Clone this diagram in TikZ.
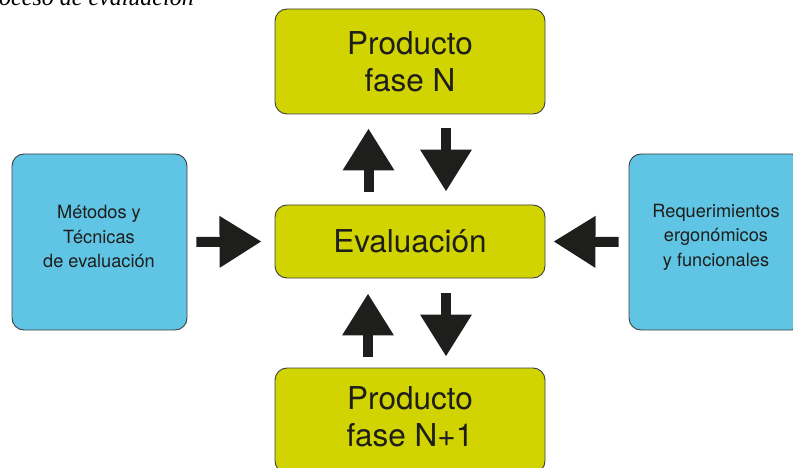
\documentclass[tikz,border=0pt]{standalone}
\usepackage{fontspec}
\setmainfont{TeX Gyre Heros}
\newfontfamily\captionfont{Liberation Serif}
\usetikzlibrary{arrows.meta}
\definecolor{phasegreen}{RGB}{209,212,0}
\definecolor{inputblue}{RGB}{96,196,228}
\definecolor{frameline}{RGB}{64,64,64}
\definecolor{inkdark}{RGB}{30,30,28}
\tikzset{
  phasebox/.style={draw=frameline, line width=0.9pt, fill=phasegreen, rounded corners=12pt,
    minimum width=270pt, inner sep=0pt, align=center, text=inkdark,
    font=\fontsize{31.5}{37}\selectfont},
  inputbox/.style={draw=frameline, line width=0.9pt, fill=inputblue, rounded corners=12pt,
    minimum width=175pt, minimum height=176pt, inner sep=0pt},
  inputtext/.style={align=center, text=inkdark, inner sep=0pt,
    font=\fontsize{18.2}{24.5}\selectfont},
  blockarrow/.style={draw=inkdark, line width=10pt,
    -{Triangle[length=42pt, width=49pt]}, fill=inkdark}
}
\begin{document}
\begin{tikzpicture}[x=1pt, y=-1pt]
  \useasboundingbox (0,0) rectangle (793,468);
  \clip (0,0) rectangle (793,468);

  % caption line, cut by the top edge
  \node[anchor=base west, inner sep=0pt, font=\captionfont\itshape\fontsize{24}{28}\selectfont]
    (caption) at (-1,6) {oceso de evaluación};

  % phases and evaluation
  \node[phasebox, minimum height=105pt] (top)  at (410,61.5)  {Producto\\fase N};
  \node[phasebox, minimum height=73pt]  (eval) at (410,241.5) {Evaluación};
  \node[phasebox, minimum height=105pt] (bot)  at (410,420.5) {};
  \node[align=center, text=inkdark, inner sep=0pt, font=\fontsize{31.5}{37}\selectfont]
    (bottext) at (410,417) {Producto\\fase N+1};

  % inputs on both sides
  \node[inputbox] (lbox) at (99.5,242) {};
  \node[inputtext] (ltext) at (99,237) {Métodos y\\Técnicas\\de evaluación};
  \node[inputbox] (rbox) at (716.5,242) {};
  \node[inputtext] (rtext) at (716,237) {Requerimientos\\ergonómicos\\y funcionales};

  % block arrows
  \draw[blockarrow] ([xshift=9pt]lbox.east) -- ([xshift=-13pt]eval.west);
  \draw[blockarrow] ([xshift=-10pt]rbox.west) -- ([xshift=8pt]eval.east);
  \draw[blockarrow] ([xshift=-41.5pt,yshift=13pt]eval.north) -- ([xshift=-41.5pt,yshift=-14pt]top.south);
  \draw[blockarrow] ([xshift=36pt,yshift=-14pt]top.south) -- ([xshift=36pt,yshift=13pt]eval.north);
  \draw[blockarrow] ([xshift=-42pt,yshift=11pt]bot.north) -- ([xshift=-42pt,yshift=-15pt]eval.south);
  \draw[blockarrow] ([xshift=36pt,yshift=-15pt]eval.south) -- ([xshift=36pt,yshift=11pt]bot.north);
\end{tikzpicture}
\end{document}
